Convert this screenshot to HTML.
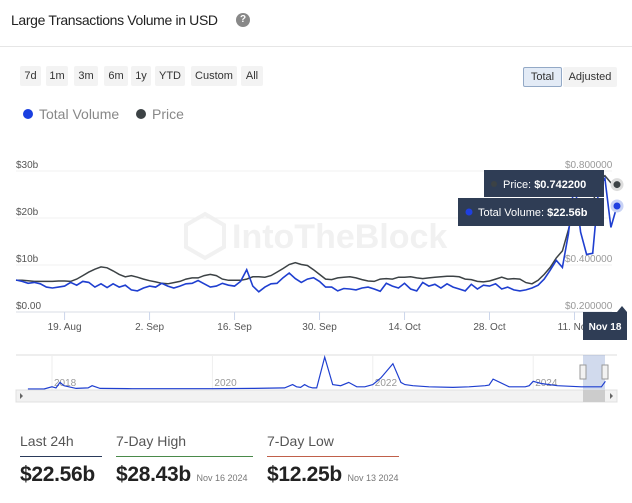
<!DOCTYPE html>
<html><head><meta charset="utf-8">
<style>
body{margin:0;background:#fff;font-family:"Liberation Sans",sans-serif;}
#root{position:relative;width:632px;height:503px;overflow:hidden;}
.btn{position:absolute;top:66px;height:20px;line-height:20px;font-size:11px;color:#333;background:#f3f3f3;text-align:center;border-radius:2px;}
.stat-l{position:absolute;top:433px;font-size:14px;color:#555;}
.stat-v{position:absolute;top:463px;font-size:21px;color:#222;font-weight:bold;letter-spacing:-0.3px;}
.stat-d{font-size:9px;color:#777;font-weight:normal;letter-spacing:0;}
</style></head><body>
<div id="root">
<div style="position:absolute;left:11px;top:12px;font-size:14px;letter-spacing:-0.35px;color:#222;">Large Transactions Volume in USD</div>
<div style="position:absolute;left:236px;top:13px;width:14px;height:14px;border-radius:7px;background:#888;color:#fff;font-size:10px;line-height:14px;text-align:center;font-weight:bold;">?</div>
<div style="position:absolute;left:0;top:46px;width:632px;height:1px;background:#e6e6e6;"></div>
<div class="btn" style="left:20px;width:21px;">7d</div>
<div class="btn" style="left:46px;width:22px;">1m</div>
<div class="btn" style="left:74px;width:24px;">3m</div>
<div class="btn" style="left:104px;width:24px;">6m</div>
<div class="btn" style="left:131px;width:20px;">1y</div>
<div class="btn" style="left:155px;width:30px;">YTD</div>
<div class="btn" style="left:191px;width:46px;">Custom</div>
<div class="btn" style="left:241px;width:22px;">All</div>
<div class="btn" style="left:523px;top:67px;width:37px;background:#e3ebf6;border:1px solid #93a9c6;height:18px;line-height:18px;">Total</div>
<div class="btn" style="left:563px;top:67px;width:54px;">Adjusted</div>
<div style="position:absolute;left:23px;top:106px;font-size:14px;color:#888;"><span style="display:inline-block;width:10px;height:10px;border-radius:5px;background:#1a3fe0;margin-right:6px;"></span>Total Volume</div>
<div style="position:absolute;left:136px;top:106px;font-size:14px;color:#888;"><span style="display:inline-block;width:10px;height:10px;border-radius:5px;background:#3c4245;margin-right:6px;"></span>Price</div>

<svg id="chart" width="632" height="420" style="position:absolute;left:0;top:0;" font-family="Liberation Sans, sans-serif"></svg>

<div class="stat-l" style="left:20px;">Last 24h</div>
<div style="position:absolute;left:20px;top:456px;width:82px;height:1px;background:#2a3a5a;"></div>
<div class="stat-v" style="left:20px;">$22.56b</div>
<div class="stat-l" style="left:116px;">7-Day High</div>
<div style="position:absolute;left:116px;top:456px;width:137px;height:1px;background:#4a8a4a;"></div>
<div class="stat-v" style="left:116px;">$28.43b <span class="stat-d">Nov 16 2024</span></div>
<div class="stat-l" style="left:267px;">7-Day Low</div>
<div style="position:absolute;left:267px;top:456px;width:132px;height:1px;background:#c0604a;"></div>
<div class="stat-v" style="left:267px;">$12.25b <span class="stat-d">Nov 13 2024</span></div>
</div>
<script>
const volume = [6.8,6.5,6.1,6.3,6.0,5.3,5.1,5.3,
5.5,6.3,5.7,6.5,6.3,5.3,6.0,
5.2,6.0,5.3,5.7,4.7,4.5,5.1,
5.5,5.3,6.1,5.5,5.1,5.5,6.0,
6.1,6.7,6.0,5.3,5.5,6.1,5.7,
5.5,6.5,9.0,5.5,4.3,5.3,6.0,
6.1,7.3,8.3,7.1,6.3,7.0,7.3,
6.5,5.3,5.3,4.5,5.0,4.9,4.7,
5.1,5.3,4.9,4.4,6.1,5.5,5.1,
6.1,4.9,4.5,6.3,5.5,5.9,5.1,
6.0,5.3,4.9,4.5,5.9,4.9,5.7,
5.5,6.0,4.9,5.3,4.7,4.5,4.7,
5.1,5.7,7.0,8.9,11.0,9.5,16.6,28.0,17.0,12.25,12.5,26.6,28.43,18.0,22.56];
const price = [0.335,0.335,0.333,0.330,0.330,0.330,0.330,0.332,
0.332,0.330,0.340,0.355,0.370,0.382,0.392,
0.388,0.375,0.360,0.350,0.355,0.348,0.340,
0.333,0.328,0.322,0.320,0.325,0.330,0.340,
0.345,0.345,0.355,0.360,0.355,0.340,0.335,
0.335,0.335,0.340,0.350,0.350,0.348,0.355,
0.370,0.385,0.402,0.410,0.402,0.398,0.380,
0.360,0.340,0.338,0.345,0.348,0.350,0.345,
0.338,0.332,0.330,0.340,0.342,0.340,0.348,
0.348,0.350,0.345,0.342,0.345,0.348,0.350,
0.352,0.352,0.350,0.340,0.338,0.330,0.328,
0.332,0.340,0.348,0.340,0.342,0.340,0.325,
0.32,0.335,0.36,0.39,0.43,0.46,0.55,0.65,0.68,0.64,0.66,0.76,0.78,0.75,0.7422];
const xTickIdx = [8,22,36,50,64,78,92];
const xTickLabels = ["19. Aug","2. Sep","16. Sep","30. Sep","14. Oct","28. Oct","11. Nov"];
const volTicks = [0,10,20,30];
const volTickLabels = ["$0.00","$10b","$20b","$30b"];
const priceTicks = [0.2,0.4,0.8];
const priceTickLabels = ["$0.200000","$0.400000","$0.800000"];
const navYears = [2017.7,2017.9,2018.0,2018.05,2018.1,2018.15,2018.3,2018.45,2018.5,2018.6,2019.0,2019.5,2020.0,2020.5,2020.9,2021.0,2021.05,2021.1,2021.15,2021.2,2021.25,2021.3,2021.4,2021.5,2021.6,2021.7,2021.75,2021.8,2021.9,2022.0,2022.1,2022.25,2022.35,2022.4,2022.5,2022.7,2023.0,2023.2,2023.4,2023.45,2023.5,2023.7,2023.9,2023.95,2024.0,2024.1,2024.3,2024.6,2024.85,2024.9];
const navValues = [0,0,2,1,6,3,0.5,1,3,0.5,0.3,0.3,0.3,0.5,1,4,2,1.5,4,2,1,1,29,4,3,6,4,2,2,4,10,23,6,4,3,2,1.5,2,3,3.5,9,2,2,3,7,5,3,2,2,7];

const svg=document.getElementById('chart');const NS='http://www.w3.org/2000/svg';
function mk(t,a,p){const e=document.createElementNS(NS,t);for(const k in a)e.setAttribute(k,a[k]);(p||svg).appendChild(e);return e;}
const N=volume.length;
const xS=i=>16+i*(601/(N-1));
const yV=v=>312-v*4.7;
const yP=p=>312-(p-0.2)/0.6*141;
const xN=y=>52+(y-2018)*80.2;
const yN=v=>389-v*1.1;

let wm=mk('text',{x:232,y:248,'font-size':34,fill:'#f1f1f1','font-weight':'bold'});wm.textContent='IntoTheBlock';


let wmi=mk('path',{d:'M205 214 L224 225 L224 247 L205 258 L186 247 L186 225 Z',fill:'none',stroke:'#f1f1f1','stroke-width':4});



volTicks.forEach((v,k)=>{
 const g=mk('line',{x1:16,x2:612,y1:yV(v),y2:yV(v),stroke:k==0?'#d8dde6':'#f0f0f0'});
 
 
 const t=mk('text',{x:16,y:yV(v)-3,'font-size':10,fill:'#555'});t.textContent=volTickLabels[k];
 
 
});
priceTicks.forEach((p,k)=>{
 const t=mk('text',{x:565,y:yP(p)-3,'font-size':10,fill:'#999'});t.textContent=priceTickLabels[k];
 
 
});
xTickIdx.forEach((i,k)=>{
 const l=mk('line',{x1:xS(i),x2:xS(i),y1:312,y2:320,stroke:'#ccd6eb'});
 
 
 const t=mk('text',{x:xS(i),y:330,'font-size':10,fill:'#555','text-anchor':'middle'});t.textContent=xTickLabels[k];
 
 
});
const pl=mk('path',{d:price.map((p,i)=>(i?'L':'M')+xS(i).toFixed(1)+' '+yP(p).toFixed(1)).join(''),fill:'none',stroke:'#3c4245','stroke-width':1.5});


const vl=mk('path',{d:volume.map((v,i)=>(i?'L':'M')+xS(i).toFixed(1)+' '+yV(v).toFixed(1)).join(''),fill:'none',stroke:'#1f3fd0','stroke-width':1.6});


const hp=mk('circle',{cx:xS(N-1),cy:yP(price[N-1]),r:5,fill:'#3c4245',stroke:'#ddd','stroke-width':3});


const hv=mk('circle',{cx:xS(N-1),cy:yV(volume[N-1]),r:5,fill:'#1f3fe0',stroke:'#c8d2f5','stroke-width':3});



const tp=mk('rect',{x:484,y:170,width:120,height:27,fill:'#2f3d55'});


const tpt=mk('text',{x:503,y:188,'font-size':11,fill:'#fff'});tpt.innerHTML='Price: <tspan font-weight="bold">$0.742200</tspan>';
mk('circle',{cx:494,cy:184,r:3,fill:'#3c4245'});
const tv=mk('rect',{x:458,y:198,width:146,height:28,fill:'#2f3d55'});


mk('circle',{cx:469,cy:212,r:3.5,fill:'#1f3fe0'});
const tvt=mk('text',{x:478,y:216,'font-size':11,fill:'#fff'});tvt.innerHTML='Total Volume: <tspan font-weight="bold">$22.56b</tspan>';
const dt=mk('path',{d:'M583 312 L617 312 L622 306 L627 312 L627 340 L583 340 Z',fill:'#2f3d55'});


const dtt=mk('text',{x:605,y:330,'font-size':10,fill:'#fff','text-anchor':'middle','font-weight':'bold'});dtt.textContent='Nov 18';

const nb=mk('line',{x1:16,x2:617,y1:355,y2:355,stroke:'#ddd'});


[2018,2020,2022,2024].forEach(y=>{
 const g=mk('line',{x1:xN(y),x2:xN(y),y1:355,y2:390,stroke:'#eee'});
 
 
 const t=mk('text',{x:xN(y)+2,y:386,'font-size':10,fill:'#999'});t.textContent=String(y);
 
 
});
const sel=mk('rect',{x:583,y:355,width:22,height:35,fill:'rgba(102,133,194,0.3)'});


const nl=mk('path',{d:navYears.map((y,i)=>(i?'L':'M')+xN(y).toFixed(1)+' '+yN(navValues[i]).toFixed(1)).join(''),fill:'none',stroke:'#1f3fd0','stroke-width':1.2});


[583,605].forEach(x=>{const h=mk('rect',{x:x-3,y:365,width:6,height:14,fill:'#f2f2f2',stroke:'#999'});
 
 });
const sb=mk('rect',{x:16,y:390,width:601,height:12,fill:'#f2f2f2',stroke:'#e0e0e0'});


const th=mk('rect',{x:583,y:390,width:22,height:12,fill:'#ccc'});


mk('path',{d:'M23 396 L20 393 L20 399 Z',fill:'#666'});
mk('path',{d:'M610 393 L613 396 L610 399 Z',fill:'#666'});
</script>
</body></html>
